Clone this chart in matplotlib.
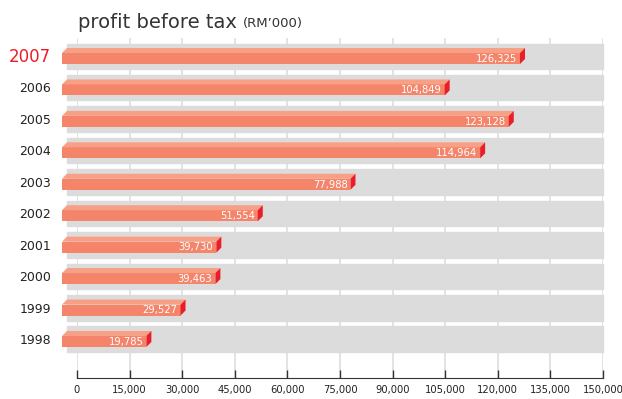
import matplotlib.pyplot as plt
from matplotlib.patches import Polygon, Rectangle

years = ["2007", "2006", "2005", "2004", "2003", "2002", "2001", "2000", "1999", "1998"]
profit = [126325, 104849, 123128, 114964, 77988, 51554, 39730, 39463, 29527, 19785]
xticks = [0, 15000, 30000, 45000, 60000, 75000, 90000, 105000, 120000, 135000, 150000]

W, H = 622, 399
x_left_px, x_right_px = 77, 603
xmax = 150000
ux = xmax / (x_right_px - x_left_px)   # data units per pixel in x
pitch = 31.44                          # pixels per row
row0_px = 56                           # centre of the first row
uy = 1 / pitch                         # row units per pixel

fig = plt.figure(figsize=(W / 100, H / 100), dpi=100)
ax = fig.add_axes([x_left_px / W, 0, (x_right_px - x_left_px) / W, 1])
ax.set_xlim(0, xmax)
ax.set_ylim((H - row0_px) / pitch, -row0_px / pitch)

band_col = "#dcdcdd"
face_col = "#f4856b"
top_col = "#f7a085"
end_col = "#ea1d28"

# vertical grid lines behind the bands
axis_row = (378 - row0_px) / pitch
for t in xticks:
    ax.plot([t, t], [-0.55, axis_row], color="#dedede", lw=1.2, zorder=0)

band_x0 = -10 * ux
bar_x0 = -15 * ux
for i, (yr, v) in enumerate(zip(years, profit)):
    # grey band
    ax.add_patch(Rectangle((band_x0, i - 12.5 * uy), xmax - band_x0, 25.5 * uy,
                           color=band_col, zorder=1, clip_on=False))
    # front face
    ax.add_patch(Rectangle((bar_x0, i - 3 * uy), v - bar_x0, 11 * uy,
                           color=face_col, zorder=2, clip_on=False, lw=0))
    # top face
    ax.add_patch(Polygon([(bar_x0, i - 3 * uy), (bar_x0 + 5 * ux, i - 8 * uy),
                          (v + 5 * ux, i - 8 * uy), (v, i - 3 * uy)],
                         closed=True, color=top_col, zorder=2, clip_on=False, lw=0))
    # end face
    ax.add_patch(Polygon([(v, i - 3 * uy), (v + 5 * ux, i - 8 * uy),
                          (v + 5 * ux, i + 3 * uy), (v, i + 8 * uy)],
                         closed=True, color=end_col, zorder=2, clip_on=False, lw=0))
    ax.text(v - 3 * ux, i + 2.8 * uy, f"{v:,}", color="white", fontsize=8,
            fontstretch="condensed", ha="right", va="center", zorder=3)
    if i == 0:
        ax.text(-26 * ux, i + 1 * uy, yr, color="#ed1c24", fontsize=12, ha="right", va="center")
    else:
        ax.text(-26 * ux, i + 1.5 * uy, yr, color="#222222", fontsize=9, ha="right", va="center")

for s in ["top", "left", "right"]:
    ax.spines[s].set_visible(False)
ax.spines["bottom"].set_position(("data", axis_row))
ax.spines["bottom"].set_color("#333333")
ax.set_yticks([])
ax.set_xticks(xticks)
ax.set_xticklabels([f"{t:,}" for t in xticks], fontstretch="condensed")
ax.tick_params(axis="x", direction="in", length=6, width=1, color="#333333",
               labelsize=8, labelcolor="#222222", pad=5)
ax.patch.set_visible(False)

fig.text(78 / W, 1 - 22 / H, "profit before tax", fontsize=14, color="#333333", va="center")
fig.text(243 / W, 1 - 23 / H, "(RM\u2019000)", fontsize=9.5, color="#333333", va="center")

fig.savefig("out.png", dpi=100)
